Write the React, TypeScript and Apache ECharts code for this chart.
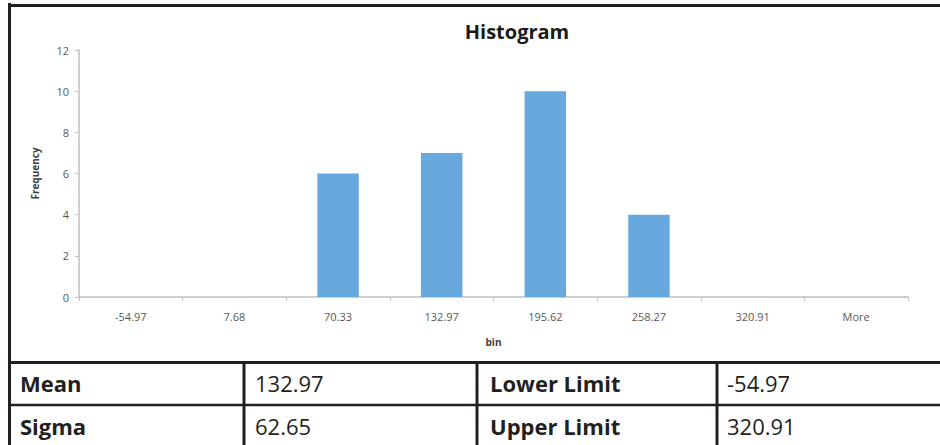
import React, { useEffect, useRef } from "react";
import * as echarts from "echarts";

const bins = ["-54.97", "7.68", "70.33", "132.97", "195.62", "258.27", "320.91", "More"];
const frequency = [0, 0, 6, 7, 10, 4, 0, 0];
const yTicks = { min: 0, max: 12, interval: 2 };
const tableRows = [
  ["Mean", "132.97", "Lower Limit", "-54.97"],
  ["Sigma", "62.65", "Upper Limit", "320.91"],
];

const FONT = "'Open Sans', 'Noto Sans', sans-serif";
const INK = "#231f20";

export default function App() {
  const ref = useRef<HTMLDivElement>(null);
  useEffect(() => {
    if (!ref.current) return;
    const chart = echarts.init(ref.current, undefined, { renderer: "svg" });

    const colX = [20, 255, 490, 727];
    const rowY = [383, 426];
    const tableTexts: any[] = [];
    tableRows.forEach((row, r) => {
      row.forEach((cell, c) => {
        tableTexts.push({
          type: "text",
          x: colX[c],
          y: rowY[r],
          style: {
            text: cell,
            fill: INK,
            font: `${c % 2 === 0 ? "bold " : ""}22px ${FONT}`,
            textAlign: "left",
            textVerticalAlign: "middle",
          },
        });
      });
    });

    const ln = (x1: number, y1: number, x2: number, y2: number, w = 3) => ({
      type: "line",
      shape: { x1, y1, x2, y2 },
      style: { stroke: INK, lineWidth: w },
    });

    chart.setOption({
      animation: false,
      backgroundColor: "#ffffff",
      textStyle: { fontFamily: FONT },
      grid: { left: 79, right: 32, top: 50, bottom: 148, containLabel: false },
      xAxis: {
        type: "category",
        data: bins,
        name: "bin",
        nameLocation: "middle",
        nameGap: 40,
        nameTextStyle: { fontWeight: "bold", fontSize: 10, color: "#404040" },
        axisLine: { lineStyle: { color: "#bfbfbf", width: 1.5 } },
        axisTick: { show: true, length: 4, lineStyle: { color: "#bfbfbf" } },
        axisLabel: { color: "#595959", fontSize: 11, margin: 14 },
        splitLine: { show: false },
      },
      yAxis: {
        type: "value",
        min: yTicks.min,
        max: yTicks.max,
        interval: yTicks.interval,
        name: "Frequency",
        nameLocation: "middle",
        nameRotate: 90,
        nameGap: 39,
        nameTextStyle: { fontWeight: "bold", fontSize: 10, color: "#404040" },
        axisLine: { show: true, lineStyle: { color: "#bfbfbf", width: 1.5 } },
        axisTick: { show: true, length: 4, lineStyle: { color: "#bfbfbf" } },
        axisLabel: { color: "#595959", fontSize: 11, margin: 10 },
        splitLine: { show: false },
      },
      series: [
        {
          type: "bar",
          data: frequency,
          barWidth: "40%",
          itemStyle: { color: "#67a9de" },
        },
      ],
      graphic: [
        {
          type: "text",
          x: 517,
          y: 31,
          style: {
            text: "Histogram",
            fill: "#1a1a1a",
            font: `bold 20px ${FONT}`,
            textAlign: "center",
            textVerticalAlign: "middle",
          },
        },
        ln(9.5, 3, 9.5, 445),
        ln(8, 5.5, 940, 5.5),
        ln(8, 362.5, 940, 362.5),
        ln(8, 405, 940, 405, 2.5),
        ln(244, 362, 244, 445),
        ln(477, 362, 477, 445),
        ln(717, 362, 717, 445),
        ...tableTexts,
      ],
    });
    return () => chart.dispose();
  }, []);
  return (
    <div
      ref={ref}
      style={{ position: "absolute", left: 0, top: 0, width: 940, height: 445 }}
    />
  );
}
